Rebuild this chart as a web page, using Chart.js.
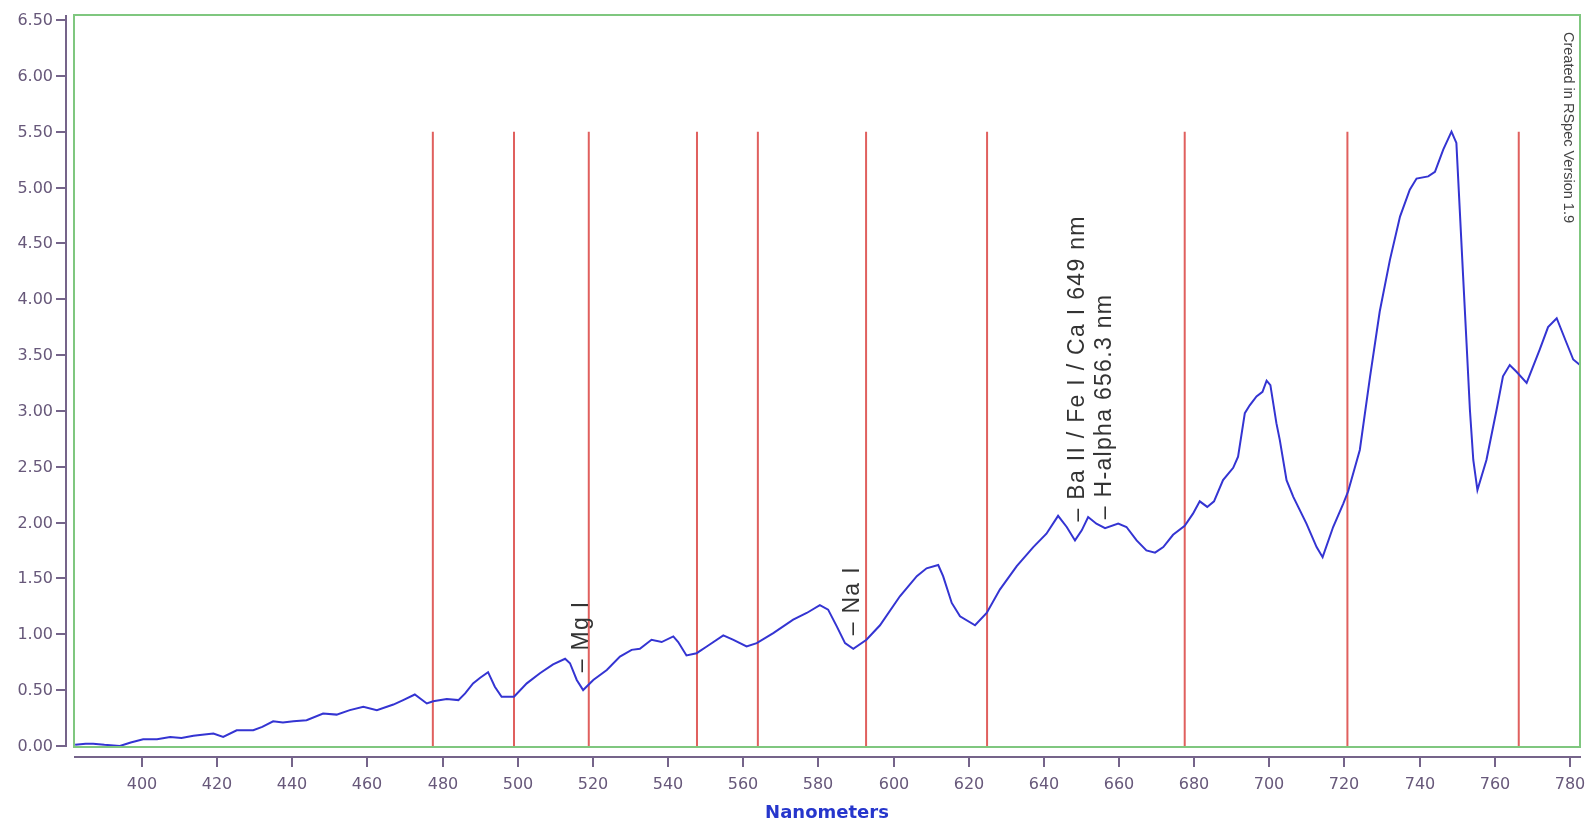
<!DOCTYPE html>
<html>
<head>
<meta charset="utf-8">
<title>RSpec spectrum</title>
<script src="https://cdn.jsdelivr.net/npm/chart.js@4.4.1/dist/chart.umd.min.js"></script>
<style>
  html, body { margin: 0; padding: 0; background: #ffffff; }
</style>
</head>
<body>
<canvas id="spectrumChart" width="1587" height="823"></canvas>
<script>
// spectrum samples (nm, relative intensity)
const wavelengths = [
  382.2, 385, 387, 390, 394.1, 397, 400.3, 404, 407.5, 410.5, 413.7, 416, 419, 421.6, 425.2, 429.6,
  432, 434.9, 437.5, 440.3, 443.8, 448.2, 451.8, 455.3, 458.9, 462.5, 466.9, 469.5, 472.6, 475.8,
  477.5, 481.1, 484.2, 486, 488.1, 490, 492.1, 493.9, 495.7, 499, 502.4, 505.9, 509.4, 512.6, 513.9,
  515.7, 517.4, 520.1, 523.7, 527.2, 530.3, 532.5, 535.6, 538.3, 541.4, 542.7, 544.9, 547.6, 550.3,
  554.7, 557.4, 560.9, 563.6, 568, 573.3, 576.9, 580.4, 582.6, 584.9, 587.1, 589.3, 592.8, 596.4,
  601.7, 606.2, 608.8, 611.9, 613.2, 615.5, 617.7, 621.7, 624.8, 628.3, 632.8, 637.2, 640.7, 643.8,
  646.1, 648.3, 650.1, 651.8, 654, 656.3, 659.8, 662, 664.7, 667.3, 669.6, 671.8, 674.4, 677.5,
  679.7, 681.5, 683.5, 685.3, 687.7, 690.4, 691.7, 693.5, 694.8, 696.6, 698.2, 699.3, 700.3, 701.9,
  702.8, 704.6, 706.4, 709.9, 712.6, 714.2, 717, 719.7, 721, 724.1, 726.8, 729.4, 732.1, 734.8,
  737.4, 739.2, 742.3, 744.1, 746.3, 748.5, 749.8, 750.7, 751.6, 752.5, 753.4, 754.3, 755.4, 757.8,
  760.5, 762.2, 764, 765.8, 768.5, 772, 774.2, 776.5, 779.1, 780.9, 782.7
];
const intensity = [
  0.01, 0.02, 0.02, 0.01, 0.00, 0.03, 0.06, 0.06, 0.08, 0.07, 0.09, 0.10, 0.11, 0.08, 0.14, 0.14,
  0.17, 0.22, 0.21, 0.22, 0.23, 0.29, 0.28, 0.32, 0.35, 0.32, 0.37, 0.41, 0.46, 0.38,
  0.40, 0.42, 0.41, 0.47, 0.56, 0.61, 0.66, 0.53, 0.44, 0.44, 0.56, 0.65, 0.73, 0.78, 0.74,
  0.59, 0.50, 0.59, 0.68, 0.80, 0.86, 0.87, 0.95, 0.93, 0.98, 0.93, 0.81, 0.83, 0.89,
  0.99, 0.95, 0.89, 0.92, 1.01, 1.13, 1.19, 1.26, 1.22, 1.07, 0.92, 0.87, 0.95, 1.08,
  1.34, 1.52, 1.59, 1.62, 1.52, 1.28, 1.16, 1.08, 1.19, 1.40, 1.61, 1.78, 1.90, 2.06,
  1.96, 1.84, 1.93, 2.05, 1.99, 1.95, 1.99, 1.96, 1.84, 1.75, 1.73, 1.78, 1.89, 1.97,
  2.08, 2.19, 2.14, 2.19, 2.38, 2.49, 2.59, 2.98, 3.05, 3.13, 3.17, 3.27, 3.23, 2.89,
  2.74, 2.38, 2.23, 1.99, 1.78, 1.69, 1.96, 2.17, 2.28, 2.65, 3.30, 3.89, 4.35, 4.74,
  4.98, 5.08, 5.10, 5.14, 5.34, 5.50, 5.40, 4.80, 4.20, 3.61, 3.01, 2.56, 2.29, 2.56,
  3.01, 3.31, 3.41, 3.35, 3.25, 3.55, 3.75, 3.83, 3.61, 3.46, 3.41
];

// red reference markers
const markerNm = [477.4, 499.0, 518.9, 547.7, 563.9, 592.7, 624.9, 677.5, 720.8, 766.4];
const markerTop = 5.5;

// element labels
const elementNames = ['– Mg I', '– Na I', '– Ba II / Fe I / Ca I 649 nm', '– H-alpha 656.3 nm'];
const elementNm = [517.2, 589.2, 649, 656.3];
const elementLevel = [0.66, 0.99, 2.01, 2.03];

const xTicks = [400, 420, 440, 460, 480, 500, 520, 540, 560, 580, 600, 620, 640, 660, 680, 700, 720, 740, 760, 780];
const yTicks = [0, 0.5, 1, 1.5, 2, 2.5, 3, 3.5, 4, 4.5, 5, 5.5, 6, 6.5];

const spectrumPoints = wavelengths.map((w, i) => ({ x: w, y: intensity[i] }));
const markerPoints = [];
markerNm.forEach(w => {
  markerPoints.push({ x: w, y: 0 }, { x: w, y: markerTop }, { x: w, y: null });
});

const axisColor = '#75648a';
const tickTextColor = '#67587a';

// axes, ticks, frame and annotations in RSpec style
const rspecDecor = {
  id: 'rspecDecor',
  afterDraw(chart) {
    const { ctx, chartArea: a, scales: { x, y } } = chart;
    ctx.save();

    ctx.strokeStyle = '#7fc77f';
    ctx.lineWidth = 2;
    ctx.strokeRect(a.left, a.top, a.right - a.left, a.bottom - a.top);

    // y axis sits a little left of the plot frame
    const yAxisX = a.left - 8;
    const zeroY = y.getPixelForValue(0);
    ctx.strokeStyle = axisColor;
    ctx.lineWidth = 2;
    ctx.beginPath();
    ctx.moveTo(yAxisX, a.top);
    ctx.lineTo(yAxisX, zeroY + 1);
    ctx.stroke();

    ctx.font = '16px "DejaVu Sans"';
    ctx.fillStyle = tickTextColor;
    ctx.textAlign = 'right';
    ctx.textBaseline = 'middle';
    yTicks.forEach(v => {
      const py = Math.round(y.getPixelForValue(v));
      ctx.beginPath();
      ctx.moveTo(yAxisX - 10, py);
      ctx.lineTo(yAxisX, py);
      ctx.stroke();
      ctx.fillText(v.toFixed(2), yAxisX - 13, py + 1);
    });

    // x axis below the frame
    const xAxisY = a.bottom + 10;
    ctx.beginPath();
    ctx.moveTo(a.left, xAxisY);
    ctx.lineTo(a.right + 1, xAxisY);
    ctx.stroke();
    ctx.textAlign = 'center';
    ctx.textBaseline = 'middle';
    xTicks.forEach(v => {
      const px = Math.round(x.getPixelForValue(v));
      ctx.beginPath();
      ctx.moveTo(px, xAxisY);
      ctx.lineTo(px, xAxisY + 10);
      ctx.stroke();
      ctx.fillText(String(v), px, xAxisY + 28);
    });

    ctx.font = 'bold 18px "DejaVu Sans"';
    ctx.fillStyle = '#2636cc';
    ctx.fillText('Nanometers', (a.left + a.right) / 2, 813);

    // element labels, reading upwards
    ctx.font = '23px "Liberation Sans"';
    ctx.letterSpacing = '1.3px';
    ctx.fillStyle = '#333333';
    ctx.textAlign = 'left';
    ctx.textBaseline = 'alphabetic';
    elementNames.forEach((name, i) => {
      const px = x.getPixelForValue(elementNm[i]) + 6;
      const py = y.getPixelForValue(elementLevel[i]);
      ctx.save();
      ctx.translate(px, py);
      ctx.rotate(-Math.PI / 2);
      ctx.fillText(name, 0, 0);
      ctx.restore();
    });

    // program credit, reading downwards
    ctx.letterSpacing = '0px';
    ctx.font = '14.5px "Liberation Sans"';
    ctx.fillStyle = '#444444';
    ctx.save();
    ctx.translate(a.right - 16, a.top + 17);
    ctx.rotate(Math.PI / 2);
    ctx.fillText('Created in RSpec Version 1.9', 0, 0);
    ctx.restore();

    ctx.restore();
  }
};

new Chart(document.getElementById('spectrumChart').getContext('2d'), {
  type: 'line',
  data: {
    datasets: [
      {
        label: 'Spectrum',
        data: spectrumPoints,
        borderColor: '#3434d2',
        borderWidth: 2,
        pointRadius: 0,
        tension: 0,
        fill: false,
        order: 1
      },
      {
        label: 'Markers',
        data: markerPoints,
        borderColor: '#e0605e',
        borderWidth: 2,
        pointRadius: 0,
        spanGaps: false,
        fill: false,
        order: 2
      }
    ]
  },
  options: {
    responsive: false,
    animation: false,
    layout: { padding: { left: 74, top: 15, right: 7, bottom: 76 } },
    plugins: {
      legend: { display: false },
      tooltip: { enabled: false }
    },
    scales: {
      x: { type: 'linear', min: 381.9, max: 782.7, display: false },
      y: { type: 'linear', min: -0.01, max: 6.545, display: false }
    }
  },
  plugins: [rspecDecor]
});
</script>
</body>
</html>
